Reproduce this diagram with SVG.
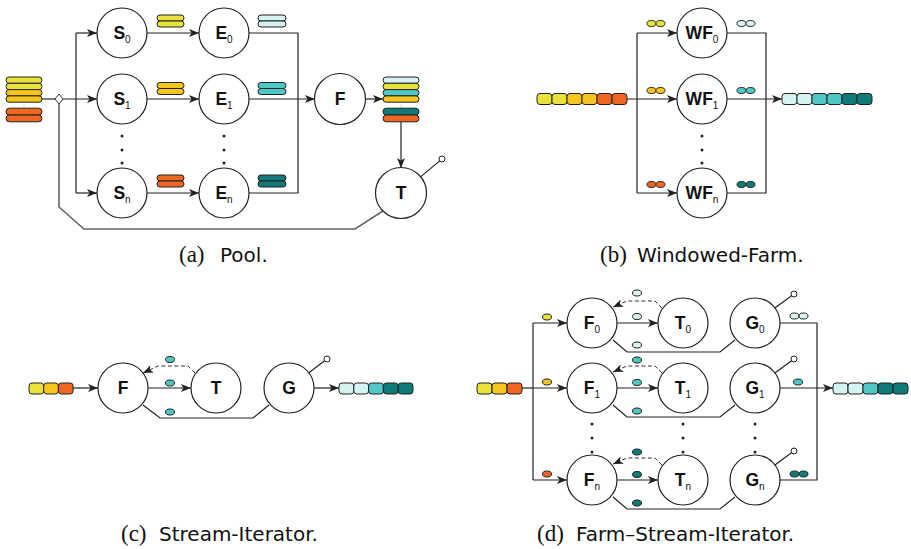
<svg xmlns="http://www.w3.org/2000/svg" width="911" height="549" viewBox="0 0 911 549">
<defs>
<style>
.n{fill:#fff;stroke:#222;stroke-width:1.2}
.l{fill:none;stroke:#222;stroke-width:1.2}
.fb{fill:none;stroke:#666;stroke-width:1.6}
.d{fill:none;stroke:#333;stroke-width:1;stroke-dasharray:4 2.5}
.g{fill:none;stroke:#aaa;stroke-width:0.8;stroke-dasharray:1 1}
.lbl{font-family:"Liberation Sans",Arial,sans-serif;font-weight:bold;font-size:17.5px;text-anchor:middle;fill:#111}
.sub{font-size:10px;font-weight:normal}
.dot{fill:#222}
.b{stroke:#222;stroke-width:1}
.pin{fill:#fff;stroke:#222;stroke-width:1}
.y1{fill:#e8e23a}.y2{fill:#f7c51e}.o{fill:#ee6622}.c1{fill:#d5f3f0}.c2{fill:#4ec7c5}.c3{fill:#0f7b78}
.cs{font-family:"Liberation Serif","Times New Roman",serif;font-size:23px;fill:#111}
.ct{font-family:"DejaVu Sans",sans-serif;font-size:20px;fill:#111}
</style>
<marker id="ar" markerWidth="10" markerHeight="8" refX="10" refY="4" orient="auto" markerUnits="userSpaceOnUse">
<path d="M0,0 L10,4 L0,8 L2.5,4 z" fill="#222"/>
</marker>
</defs>

<!-- ============ (a) Pool ============ -->
<g id="a-connectors">
<path class="l" d="M42,99 H55"/>
<path class="l" d="M63,99 H97" marker-end="url(#ar)"/>
<path class="l" d="M76,33 V193"/>
<path class="l" d="M76,33 H97" marker-end="url(#ar)"/>
<path class="l" d="M76,193 H97" marker-end="url(#ar)"/>
<path class="l" d="M147,33 H199" marker-end="url(#ar)"/>
<path class="l" d="M147,99 H199" marker-end="url(#ar)"/>
<path class="l" d="M147,193 H199" marker-end="url(#ar)"/>
<path class="l" d="M249,33 H298 V193 H249"/>
<path class="l" d="M249,99 H315" marker-end="url(#ar)"/>
<path class="l" d="M366,99 H383" marker-end="url(#ar)"/>
<path class="l" d="M401,122 V168" marker-end="url(#ar)"/>
<path class="l" d="M420.2,177.1 L439.7,160.9"/>
<circle class="pin" cx="442" cy="159" r="3"/>
<path class="fb" d="M59,104 V207 L84,229 H355 L383,211"/>
<polygon points="59,94 63,99 59,104 55,99" fill="#fff" stroke="#333" stroke-width="1"/>
</g>
<g id="a-input">
<rect class="b y1" x="6" y="77" width="36" height="6.3" rx="3.1"/>
<rect class="b y1" x="6" y="83.3" width="36" height="6.3" rx="3.1"/>
<rect class="b y2" x="6" y="89.6" width="36" height="6.3" rx="3.1"/>
<rect class="b y2" x="6" y="95.9" width="36" height="6.3" rx="3.1"/>
<path class="g" d="M24,102.5 V108"/>
<rect class="b o" x="6" y="108.2" width="36" height="6.8" rx="3.4"/>
<rect class="b o" x="6" y="115" width="36" height="6.8" rx="3.4"/>
</g>
<g id="a-S0"><circle class="n" cx="122" cy="33" r="25"/><text class="lbl" x="122" y="39">S<tspan class="sub" dy="4">0</tspan></text></g>
<g id="a-S1"><circle class="n" cx="122" cy="99" r="25"/><text class="lbl" x="122" y="105">S<tspan class="sub" dy="4">1</tspan></text></g>
<g id="a-Sn"><circle class="n" cx="122" cy="193" r="25"/><text class="lbl" x="122" y="199">S<tspan class="sub" dy="4">n</tspan></text></g>
<g id="a-E0"><circle class="n" cx="224" cy="33" r="25"/><text class="lbl" x="224" y="39">E<tspan class="sub" dy="4">0</tspan></text></g>
<g id="a-E1"><circle class="n" cx="224" cy="99" r="25"/><text class="lbl" x="224" y="105">E<tspan class="sub" dy="4">1</tspan></text></g>
<g id="a-En"><circle class="n" cx="224" cy="193" r="25"/><text class="lbl" x="224" y="199">E<tspan class="sub" dy="4">n</tspan></text></g>
<g id="a-F"><circle class="n" cx="340" cy="99" r="25.5"/><text class="lbl" x="340" y="105">F</text></g>
<g id="a-T"><circle class="n" cx="401" cy="193" r="25.5"/><text class="lbl" x="401" y="199">T</text></g>
<g id="a-pills">
<rect class="b y1" x="157" y="15" width="27" height="6" rx="3"/>
<rect class="b y1" x="157" y="21" width="27" height="6" rx="3"/>
<rect class="b y2" x="157" y="82.5" width="27" height="6" rx="3"/>
<rect class="b y2" x="157" y="88.5" width="27" height="6" rx="3"/>
<rect class="b o" x="157" y="175" width="27" height="6" rx="3"/>
<rect class="b o" x="157" y="181" width="27" height="6" rx="3"/>
<rect class="b c1" x="258" y="15" width="28" height="6" rx="3"/>
<rect class="b c1" x="258" y="21" width="28" height="6" rx="3"/>
<rect class="b c2" x="258" y="82.5" width="28" height="6" rx="3"/>
<rect class="b c2" x="258" y="88.5" width="28" height="6" rx="3"/>
<rect class="b c3" x="258" y="175" width="28" height="6" rx="3"/>
<rect class="b c3" x="258" y="181" width="28" height="6" rx="3"/>
</g>
<g id="a-output">
<rect class="b c1" x="383" y="77" width="36" height="6.3" rx="3.1"/>
<rect class="b y1" x="383" y="83.3" width="36" height="6.3" rx="3.1"/>
<rect class="b c2" x="383" y="89.6" width="36" height="6.3" rx="3.1"/>
<rect class="b y2" x="383" y="95.9" width="36" height="6.3" rx="3.1"/>
<path class="g" d="M401,102.5 V108"/>
<rect class="b c3" x="383" y="108.2" width="36" height="6.8" rx="3.4"/>
<rect class="b o" x="383" y="115" width="36" height="6.8" rx="3.4"/>
</g>
<g id="a-dots" class="dot">
<circle cx="122" cy="136" r="1.5"/><circle cx="122" cy="150" r="1.5"/><circle cx="122" cy="163" r="1.5"/>
<circle cx="224" cy="136" r="1.5"/><circle cx="224" cy="150" r="1.5"/><circle cx="224" cy="163" r="1.5"/>
</g>
<text x="179" y="262"><tspan class="cs">(a)</tspan><tspan class="ct" x="220">Pool.</tspan></text>

<!-- ============ (b) Windowed-Farm ============ -->
<g id="b-connectors">
<path class="l" d="M627,99 H677" marker-end="url(#ar)"/>
<path class="l" d="M637,33 V193"/>
<path class="l" d="M637,33 H677" marker-end="url(#ar)"/>
<path class="l" d="M637,193 H677" marker-end="url(#ar)"/>
<path class="l" d="M727,33 H766 V193 H727"/>
<path class="l" d="M727,99 H782" marker-end="url(#ar)"/>
</g>
<g id="b-input">
<rect class="b y1" x="537" y="93.5" width="15" height="11" rx="3"/>
<rect class="b y1" x="552" y="93.5" width="15" height="11" rx="3"/>
<rect class="b y2" x="567" y="93.5" width="15" height="11" rx="3"/>
<rect class="b y2" x="582" y="93.5" width="15" height="11" rx="3"/>
<rect class="b o" x="597" y="93.5" width="15" height="11" rx="3"/>
<rect class="b o" x="612" y="93.5" width="15" height="11" rx="3"/>
</g>
<g id="b-WF0"><circle class="n" cx="702" cy="33" r="25"/><text class="lbl" x="702" y="39">WF<tspan class="sub" dy="4">0</tspan></text></g>
<g id="b-WF1"><circle class="n" cx="702" cy="99" r="25"/><text class="lbl" x="702" y="105">WF<tspan class="sub" dy="4">1</tspan></text></g>
<g id="b-WFn"><circle class="n" cx="702" cy="193" r="25"/><text class="lbl" x="702" y="199">WF<tspan class="sub" dy="4">n</tspan></text></g>
<g id="b-pills">
<ellipse class="b y1" cx="651.5" cy="23.5" rx="4.5" ry="3"/><ellipse class="b y1" cx="660.5" cy="23.5" rx="4.5" ry="3"/>
<ellipse class="b y2" cx="651.5" cy="90.5" rx="4.5" ry="3"/><ellipse class="b y2" cx="660.5" cy="90.5" rx="4.5" ry="3"/>
<ellipse class="b o" cx="651.5" cy="184.5" rx="4.5" ry="3"/><ellipse class="b o" cx="660.5" cy="184.5" rx="4.5" ry="3"/>
<ellipse class="b c1" cx="741.5" cy="23.5" rx="4.5" ry="3"/><ellipse class="b c1" cx="750.5" cy="23.5" rx="4.5" ry="3"/>
<ellipse class="b c2" cx="741.5" cy="90.5" rx="4.5" ry="3"/><ellipse class="b c2" cx="750.5" cy="90.5" rx="4.5" ry="3"/>
<ellipse class="b c3" cx="741.5" cy="184.5" rx="4.5" ry="3"/><ellipse class="b c3" cx="750.5" cy="184.5" rx="4.5" ry="3"/>
</g>
<g id="b-output">
<rect class="b c1" x="782" y="93.5" width="15" height="11" rx="3"/>
<rect class="b c1" x="797" y="93.5" width="15" height="11" rx="3"/>
<rect class="b c2" x="812" y="93.5" width="15" height="11" rx="3"/>
<rect class="b c2" x="827" y="93.5" width="15" height="11" rx="3"/>
<rect class="b c3" x="842" y="93.5" width="15" height="11" rx="3"/>
<rect class="b c3" x="857" y="93.5" width="15" height="11" rx="3"/>
</g>
<g id="b-dots" class="dot">
<circle cx="702" cy="136" r="1.5"/><circle cx="702" cy="150" r="1.5"/><circle cx="702" cy="163" r="1.5"/>
</g>
<text x="600" y="262"><tspan class="cs">(b)</tspan><tspan class="ct" x="637">Windowed-Farm.</tspan></text>

<!-- ============ (c) Stream-Iterator ============ -->
<g id="c-connectors">
<path class="l" d="M73,388 H98" marker-end="url(#ar)"/>
<path class="l" d="M148,388 H191" marker-end="url(#ar)"/>
<path class="l" d="M314,388 H339" marker-end="url(#ar)"/>
<path class="d" d="M195,373 L188,366 H158 L143,373" marker-end="url(#ar)"/>
<path class="l" d="M143,405 L160,418 H253 L269,405"/>
<path class="l" d="M308.9,372.8 L324.6,360.8"/>
<circle class="pin" cx="327" cy="359" r="3"/>
</g>
<g id="c-input">
<rect class="b y1" x="29" y="383" width="14.7" height="11" rx="3"/>
<rect class="b y2" x="43.7" y="383" width="14.7" height="11" rx="3"/>
<rect class="b o" x="58.4" y="383" width="14.7" height="11" rx="3"/>
</g>
<g id="c-F"><circle class="n" cx="123" cy="388" r="25"/><text class="lbl" x="123" y="394">F</text></g>
<g id="c-T"><circle class="n" cx="216" cy="388" r="25"/><text class="lbl" x="216" y="394">T</text></g>
<g id="c-G"><circle class="n" cx="289" cy="388" r="25"/><text class="lbl" x="289" y="394">G</text></g>
<g id="c-pills">
<ellipse class="b c2" cx="170" cy="359.5" rx="4.5" ry="3"/>
<ellipse class="b c2" cx="170" cy="383" rx="4.5" ry="3"/>
<ellipse class="b c2" cx="170" cy="412" rx="4.5" ry="3"/>
</g>
<g id="c-output">
<rect class="b c1" x="339" y="383" width="14.8" height="11" rx="3"/>
<rect class="b c1" x="353.8" y="383" width="14.8" height="11" rx="3"/>
<rect class="b c2" x="368.6" y="383" width="14.8" height="11" rx="3"/>
<rect class="b c3" x="383.4" y="383" width="14.8" height="11" rx="3"/>
<rect class="b c3" x="398.2" y="383" width="14.8" height="11" rx="3"/>
</g>
<text x="121" y="541"><tspan class="cs">(c)</tspan><tspan class="ct" x="159">Stream-Iterator.</tspan></text>

<!-- ============ (d) Farm-Stream-Iterator ============ -->
<g id="d-connectors">
<path class="l" d="M522,388 H533"/>
<path class="l" d="M533,323 V480"/>
<path class="l" d="M533,323 H567" marker-end="url(#ar)"/>
<path class="l" d="M533,388 H567" marker-end="url(#ar)"/>
<path class="l" d="M533,480 H567" marker-end="url(#ar)"/>
<path class="l" d="M617,323 H658" marker-end="url(#ar)"/>
<path class="l" d="M617,388 H658" marker-end="url(#ar)"/>
<path class="l" d="M617,480 H658" marker-end="url(#ar)"/>
<path class="d" d="M662,308 L655,301 H627 L613,307" marker-end="url(#ar)"/>
<path class="d" d="M662,373 L655,366 H627 L613,372" marker-end="url(#ar)"/>
<path class="d" d="M662,465 L655,458 H627 L613,464" marker-end="url(#ar)"/>
<path class="l" d="M613,340 L627,352 H720 L735,340"/>
<path class="l" d="M613,405 L627,417 H720 L735,405"/>
<path class="l" d="M613,497 L627,509 H720 L735,497"/>
<path class="l" d="M780,323 H817 V480 H780"/>
<path class="l" d="M780,388 H833" marker-end="url(#ar)"/>
<path class="l" d="M774.5,308.3 L791.6,295.8"/>
<path class="l" d="M774.5,373.3 L791.6,360.8"/>
<path class="l" d="M774.5,465.3 L791.6,452.8"/>
<circle class="pin" cx="794" cy="294" r="3"/>
<circle class="pin" cx="794" cy="359" r="3"/>
<circle class="pin" cx="794" cy="451" r="3"/>
</g>
<g id="d-input">
<rect class="b y1" x="477" y="383" width="15" height="11" rx="3"/>
<rect class="b y2" x="492" y="383" width="15" height="11" rx="3"/>
<rect class="b o" x="507" y="383" width="15" height="11" rx="3"/>
</g>
<g id="d-F0"><circle class="n" cx="592" cy="323" r="25"/><text class="lbl" x="592" y="329">F<tspan class="sub" dy="4">0</tspan></text></g>
<g id="d-F1"><circle class="n" cx="592" cy="388" r="25"/><text class="lbl" x="592" y="394">F<tspan class="sub" dy="4">1</tspan></text></g>
<g id="d-Fn"><circle class="n" cx="592" cy="480" r="25"/><text class="lbl" x="592" y="486">F<tspan class="sub" dy="4">n</tspan></text></g>
<g id="d-T0"><circle class="n" cx="683" cy="323" r="25"/><text class="lbl" x="683" y="329">T<tspan class="sub" dy="4">0</tspan></text></g>
<g id="d-T1"><circle class="n" cx="683" cy="388" r="25"/><text class="lbl" x="683" y="394">T<tspan class="sub" dy="4">1</tspan></text></g>
<g id="d-Tn"><circle class="n" cx="683" cy="480" r="25"/><text class="lbl" x="683" y="486">T<tspan class="sub" dy="4">n</tspan></text></g>
<g id="d-G0"><circle class="n" cx="755" cy="323" r="25"/><text class="lbl" x="755" y="329">G<tspan class="sub" dy="4">0</tspan></text></g>
<g id="d-G1"><circle class="n" cx="755" cy="388" r="25"/><text class="lbl" x="755" y="394">G<tspan class="sub" dy="4">1</tspan></text></g>
<g id="d-Gn"><circle class="n" cx="755" cy="480" r="25"/><text class="lbl" x="755" y="486">G<tspan class="sub" dy="4">n</tspan></text></g>
<g id="d-pills">
<ellipse class="b y1" cx="547" cy="317" rx="4.5" ry="3"/>
<ellipse class="b y2" cx="547" cy="382" rx="4.5" ry="3"/>
<ellipse class="b o" cx="547" cy="474" rx="4.5" ry="3"/>
<ellipse class="b c1" cx="637" cy="293" rx="4.5" ry="3"/>
<ellipse class="b c1" cx="637" cy="316.5" rx="4.5" ry="3"/>
<ellipse class="b c1" cx="637" cy="345" rx="4.5" ry="3"/>
<ellipse class="b c2" cx="637" cy="360" rx="4.5" ry="3"/>
<ellipse class="b c2" cx="637" cy="382.5" rx="4.5" ry="3"/>
<ellipse class="b c2" cx="637" cy="411" rx="4.5" ry="3"/>
<ellipse class="b c3" cx="637" cy="452" rx="4.5" ry="3"/>
<ellipse class="b c3" cx="637" cy="474.5" rx="4.5" ry="3"/>
<ellipse class="b c3" cx="637" cy="503" rx="4.5" ry="3"/>
<ellipse class="b c1" cx="794.5" cy="316" rx="4.5" ry="3"/><ellipse class="b c1" cx="803.5" cy="316" rx="4.5" ry="3"/>
<ellipse class="b c2" cx="798" cy="382" rx="4.5" ry="3"/>
<ellipse class="b c3" cx="794.5" cy="474" rx="4.5" ry="3"/><ellipse class="b c3" cx="803.5" cy="474" rx="4.5" ry="3"/>
</g>
<g id="d-output">
<rect class="b c1" x="833" y="383" width="15" height="11" rx="3"/>
<rect class="b c1" x="848" y="383" width="15" height="11" rx="3"/>
<rect class="b c2" x="863" y="383" width="15" height="11" rx="3"/>
<rect class="b c3" x="878" y="383" width="15" height="11" rx="3"/>
<rect class="b c3" x="893" y="383" width="15" height="11" rx="3"/>
</g>
<g id="d-dots" class="dot">
<circle cx="592" cy="424" r="1.5"/><circle cx="592" cy="438" r="1.5"/><circle cx="592" cy="452" r="1.5"/>
<circle cx="683" cy="424" r="1.5"/><circle cx="683" cy="438" r="1.5"/><circle cx="683" cy="452" r="1.5"/>
<circle cx="755" cy="424" r="1.5"/><circle cx="755" cy="438" r="1.5"/><circle cx="755" cy="452" r="1.5"/>
</g>
<text x="537" y="541"><tspan class="cs">(d)</tspan><tspan class="ct" x="576">Farm–Stream-Iterator.</tspan></text>
</svg>
